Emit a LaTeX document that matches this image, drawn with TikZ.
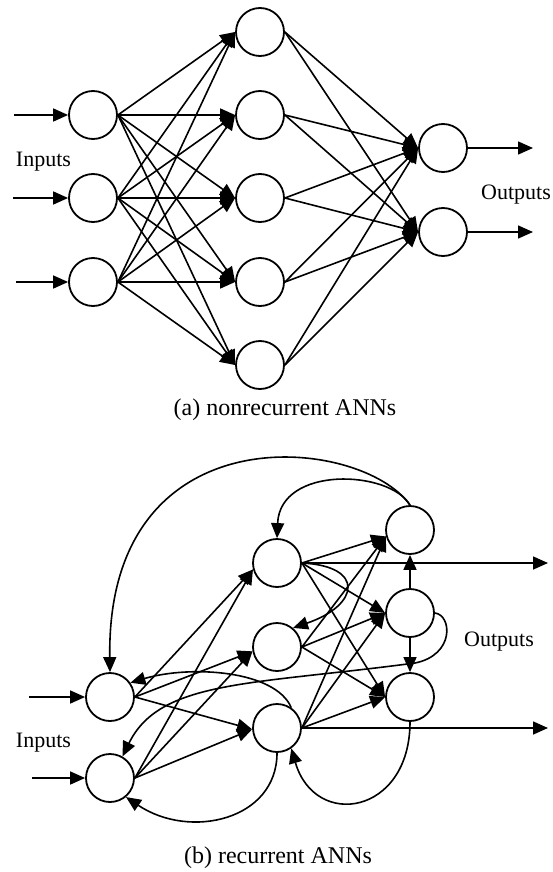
\documentclass[tikz,border=0pt]{standalone}
\usepackage{fontspec}
\setmainfont{Liberation Serif}
\usetikzlibrary{arrows.meta}
\begin{document}
\begin{tikzpicture}[x=1pt,y=-1pt,
  neuron/.style={circle,draw,line width=1.8pt,minimum size=48pt,inner sep=0pt,fill=white},
  conn/.style={line width=1.6pt,-{Triangle[length=15pt,width=13pt]}},
  lbl/.style={font=\fontsize{22}{26}\selectfont,inner sep=0pt},
  captxt/.style={font=\fontsize{24}{28}\selectfont,inner sep=0pt}]
\useasboundingbox[fill=white] (0,0) rectangle (552,872);

% ---------- (a) nonrecurrent ----------
\node[neuron] (ai1) at (93,115) {};
\node[neuron] (ai2) at (93,198) {};
\node[neuron] (ai3) at (93,282) {};
\node[neuron] (ah1) at (260,32) {};
\node[neuron] (ah2) at (260,115) {};
\node[neuron] (ah3) at (260,198) {};
\node[neuron] (ah4) at (260,282) {};
\node[neuron] (ah5) at (260,365) {};
\node[neuron] (ao1) at (443,148) {};
\node[neuron] (ao2) at (443,232) {};
\coordinate (ain1) at (14,115);
\coordinate (ain2) at (13,198);
\coordinate (ain3) at (16,282);
\coordinate (aout1) at (533,148);
\coordinate (aout2) at (533,232);
\node[lbl] (ainl) at (43.5,162) {Inputs};
\node[lbl] (aoutl) at (516,195) {Outputs};
\node[captxt] (acap) at (285,410) {(a) nonrecurrent ANNs};

\foreach \i in {1,2,3} \draw[conn] (ain\i) -- (ai\i.west);
\foreach \o in {1,2} \draw[conn] (ao\o.east) -- (aout\o);
\foreach \i in {1,2,3} \foreach \h in {1,...,5} \draw[conn] (ai\i.east) -- (ah\h.west);
\foreach \h in {1,...,5} \foreach \o in {1,2} \draw[conn] (ah\h.east) -- (ao\o.west);

% ---------- (b) recurrent ----------
\node[neuron] (bi1) at (110,697) {};
\node[neuron] (bi2) at (110,778) {};
\node[neuron] (bh1) at (277,563) {};
\node[neuron] (bh2) at (277,647) {};
\node[neuron] (bh3) at (277,728) {};
\node[neuron] (bo1) at (410,530) {};
\node[neuron] (bo2) at (410,613) {};
\node[neuron] (bo3) at (410,697) {};
\coordinate (bin1) at (29,697);
\coordinate (bin2) at (32,778);
\coordinate (bout1) at (548,563);
\coordinate (bout2) at (548,728);
\node[lbl] (binl) at (43.5,743) {Inputs};
\node[lbl] (boutl) at (499,642) {Outputs};
\node[captxt] (bcap) at (278,858) {(b) recurrent ANNs};

\draw[conn] (bin1) -- (bi1.west);
\draw[conn] (bin2) -- (bi2.west);
\draw[conn] (bh1.east) -- (bout1);
\draw[conn] (bh3.east) -- (bout2);

\foreach \i in {1,2} {
  \draw[conn] (bi\i.east) -- (bh1.195);
  \draw[conn] (bi\i.east) -- (bh2.190);
  \draw[conn] (bi\i.east) -- (bh3.183);
}
\foreach \h in {1,2,3} {
  \draw[conn] (bh\h.east) -- (bo1.195);
  \draw[conn] (bh\h.east) -- (bo2.west);
  \draw[conn] (bh\h.east) -- (bo3.west);
}
\draw[conn] (bo2.north) -- (bo1.south);
\draw[conn] (bo2.south) -- (bo3.north);

% recurrent curves
\draw[conn] (bo1.north) .. controls (362,436) and (106,408) .. (bi1.north);
\draw[conn] (bo1.north) .. controls (390,470) and (280,465) .. (bh1.north);
\draw[conn] (bh1.east) .. controls (365,566) and (360,605) .. (bh2.50);
\draw[conn] (bo2.east) .. controls (452,615) and (455,655) .. (415,663)
   .. controls (250,685) and (160,680) .. (bi2.60);
\draw[conn] (bh3.55) .. controls (275,670) and (190,665) .. (bi1.35);
\draw[conn] (bh3.south) .. controls (277,820) and (190,840) .. (bi2.-50);
\draw[conn] (bo3.south) .. controls (410,815) and (315,830) .. (bh3.-55);
\end{tikzpicture}
\end{document}
